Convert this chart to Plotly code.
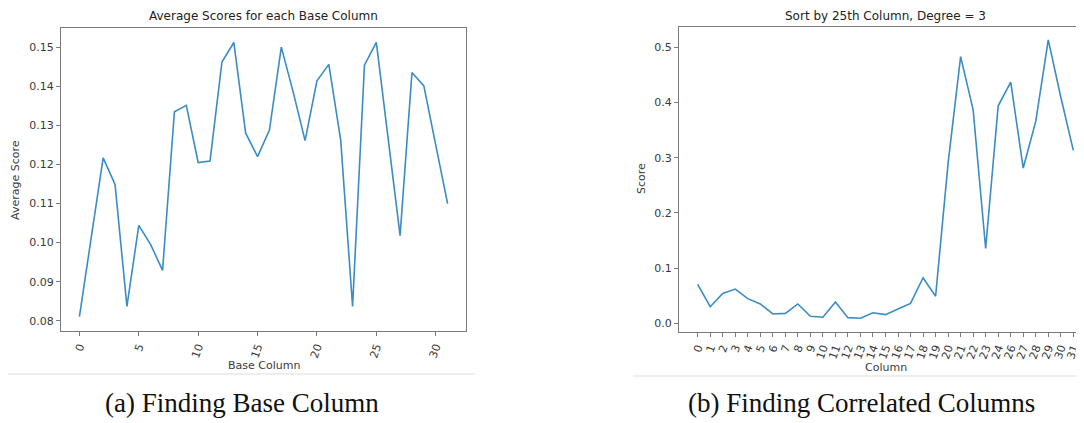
import plotly.graph_objects as go

# the page body adds an 8px offset, so the figure is 8px smaller each way
OFF = 8
W, H = 1084 - OFF, 423 - OFF

# ---------------- data ----------------
base_columns = list(range(32))
avg_scores = [0.0811, 0.102, 0.1217, 0.1149, 0.0837, 0.1044, 0.0995, 0.0929,
              0.1335, 0.1351, 0.1205, 0.1209, 0.1462, 0.1512, 0.1280, 0.1220,
              0.1288, 0.1500, 0.1385, 0.1261, 0.1414, 0.1456, 0.1262, 0.0837,
              0.1454, 0.1512, 0.1265, 0.1018, 0.1435, 0.1401, 0.1250, 0.1100]

col_labels = ["0", "1", "2", "3", "4", "5", "6", "7", "8", "9", "10", "11",
              "12", "13", "14", "15", "16", "17", "18", "19", "20", "21", "22",
              "23", "24", "26", "27", "28", "29", "30", "31"]
col_scores = [0.0705, 0.030, 0.054, 0.062, 0.0446, 0.035, 0.0169, 0.018,
              0.035, 0.0127, 0.011, 0.0386, 0.0102, 0.009, 0.019, 0.0157,
              0.026, 0.036, 0.0825, 0.049, 0.290, 0.483, 0.3867, 0.1355,
              0.394, 0.4367, 0.2813, 0.3657, 0.5133, 0.410, 0.3133]

left_xticks = [0, 5, 10, 15, 20, 25, 30]
left_yticks = [0.08, 0.09, 0.10, 0.11, 0.12, 0.13, 0.14, 0.15]
right_yticks = [0.0, 0.1, 0.2, 0.3, 0.4, 0.5]

# ---------------- style ----------------
LINE = "#3a8dc2"
SPINE = "#7a7a7a"
TXT = "#3a3a3a"
FONT = "DejaVu Sans"

def px_x(p):
    return (p - OFF) / W

def px_y(p):
    return (H - (p - OFF)) / H

fig = go.Figure()
fig.add_trace(go.Scatter(x=base_columns, y=avg_scores, mode="lines",
                         line=dict(color=LINE, width=1.6),
                         xaxis="x", yaxis="y", showlegend=False))
fig.add_trace(go.Scatter(x=list(range(len(col_labels))), y=col_scores, mode="lines",
                         line=dict(color=LINE, width=1.6),
                         xaxis="x2", yaxis="y2", showlegend=False))

tickfont = dict(family=FONT, size=11, color=TXT)
common = dict(showgrid=False, zeroline=False, ticks="outside", ticklen=4,
              tickwidth=1, tickcolor=SPINE, showline=True, linecolor=SPINE,
              linewidth=1.3, tickfont=tickfont)

# left plot area: x 61..466, y 28..331 (reference pixels)
# right plot area: x 679..(beyond 1084), y 27..332
n_right = len(col_labels)
fig.update_layout(
    width=W, height=H,
    margin=dict(l=0, r=0, t=0, b=0),
    paper_bgcolor="white", plot_bgcolor="white",
    xaxis=dict(domain=[px_x(61), px_x(466)], range=[-1.55, 32.55],
               tickvals=left_xticks, ticktext=[str(v) for v in left_xticks],
               tickangle=-70, mirror=True, anchor="y", **common),
    yaxis=dict(domain=[px_y(331), px_y(28)], range=[0.0774, 0.1549],
               tickvals=left_yticks, tickformat=".2f", mirror=True,
               anchor="x", **common),
    xaxis2=dict(domain=[px_x(679), 1.0], range=[-1.494, -1.494 + 405 / 12.52],
                tickvals=list(range(n_right)), ticktext=col_labels,
                tickangle=-70, mirror=True, anchor="y2", **common),
    yaxis2=dict(domain=[px_y(332), px_y(26.7)], range=[-0.0158, 0.5373],
                tickvals=right_yticks, tickformat=".1f", mirror=False,
                anchor="x2", **common),
)

ann = []
def text(x, y, s, size=12, angle=0, family=FONT, color="#222222"):
    ann.append(dict(x=px_x(x), y=px_y(y), xref="paper", yref="paper",
                    text=s, showarrow=False, textangle=angle,
                    xanchor="center", yanchor="middle",
                    font=dict(family=family, size=size, color=color)))

text(263.5, 16.5, "Average Scores for each Base Column", size=12)
text(885.5, 15.5, "Sort by 25th Column, Degree = 3", size=12)
text(263.5, 365.5, "Base Column", size=11, color=TXT)
text(885.5, 367.5, "Column", size=11, color=TXT)
text(15, 180, "Average Score", size=11, angle=-90, color=TXT)
text(642, 179, "Score", size=11, angle=-90, color=TXT)
text(241.5, 403, "(a) Finding Base Column", size=27, family="Liberation Serif", color="#111111")
text(862, 403, "(b) Finding Correlated Columns", size=27, family="Liberation Serif", color="#111111")
fig.update_layout(annotations=ann)

fig.update_layout(shapes=[
    dict(type="line", xref="paper", yref="paper", x0=px_x(8), x1=px_x(475),
         y0=px_y(374), y1=px_y(374), line=dict(color="#e8e8e8", width=1.5)),
    dict(type="line", xref="paper", yref="paper", x0=px_x(633), x1=1.0,
         y0=px_y(376), y1=px_y(376), line=dict(color="#e8e8e8", width=1.5)),
])

fig.write_html("out.html")
